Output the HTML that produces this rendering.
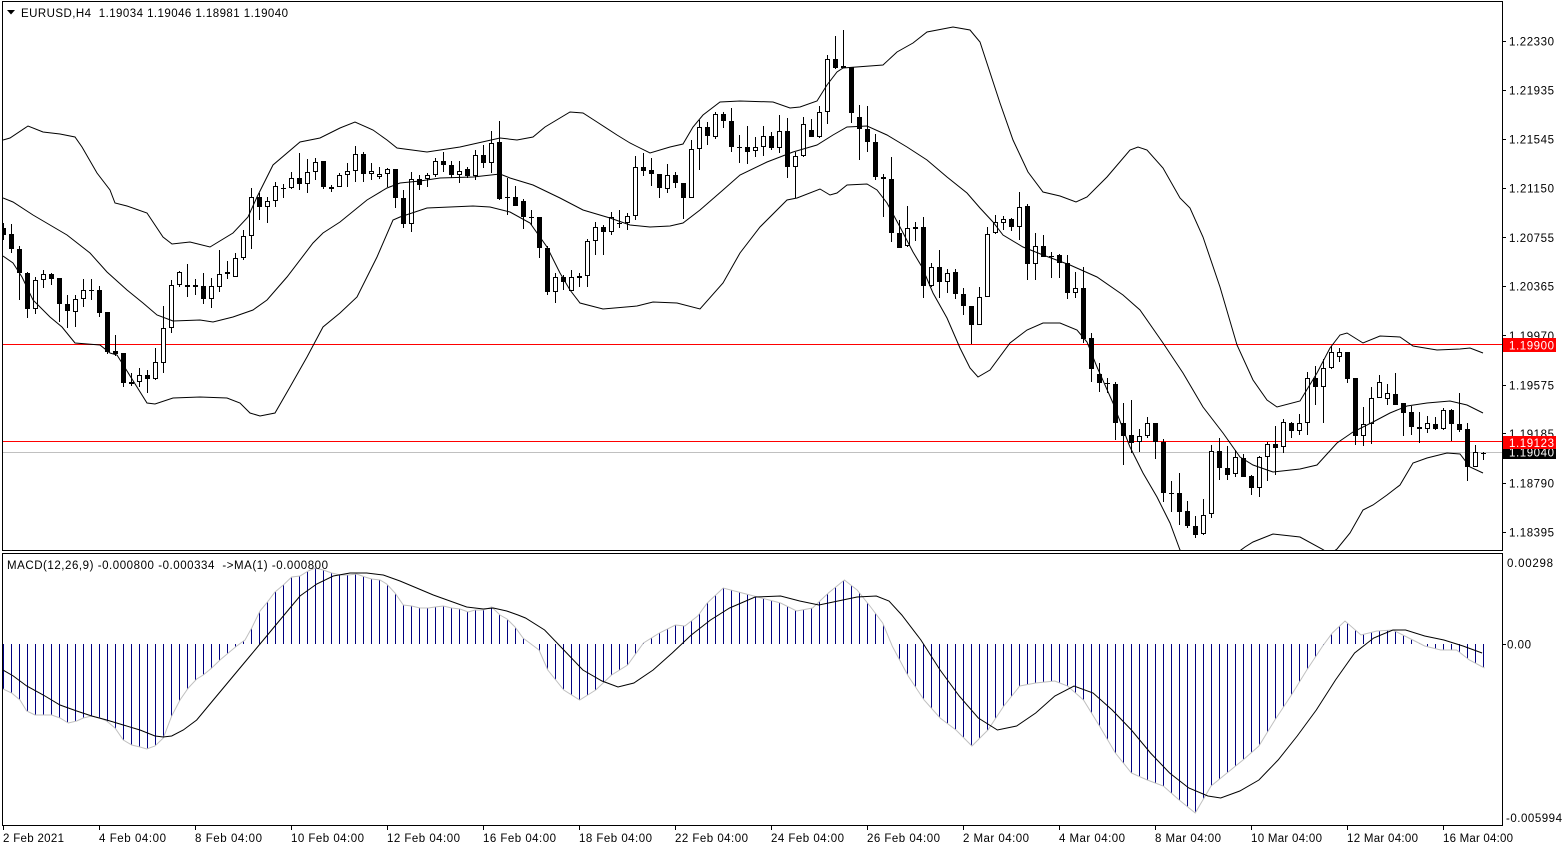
<!DOCTYPE html>
<html><head><meta charset="utf-8"><style>html,body{margin:0;padding:0;overflow:hidden;background:#fff}svg{display:block}text{white-space:pre}</style></head>
<body>
<svg width="1566" height="850" viewBox="0 0 1566 850" xmlns="http://www.w3.org/2000/svg" font-family="'Liberation Sans', sans-serif" font-size="11.5">
<defs>
<clipPath id="cm"><rect x="3" y="2" width="1499" height="548"/></clipPath>
<clipPath id="cd"><rect x="3" y="554" width="1499" height="271"/></clipPath>
<pattern id="hp" x="3" y="0" width="8" height="850" patternUnits="userSpaceOnUse"><rect x="0" y="0" width="1" height="850" fill="#000080"/></pattern>
</defs>
<rect width="1566" height="850" fill="#fff"/>

<g clip-path="url(#cm)">
<rect x="2" y="344" width="1500" height="1" fill="#ff0000"/>
<rect x="2" y="441" width="1500" height="1" fill="#ff0000"/>
<rect x="2" y="452" width="1500" height="1" fill="#c0c0c0"/>

<path shape-rendering="crispEdges" stroke="#000" stroke-width="1" fill="none" d="M3.5 223V240M11.5 224V253M19.5 246V300M27.5 272V318M35.5 277V314M43.5 270V288M51.5 273V285M59.5 278V322M67.5 295V328M75.5 295V327M83.5 279V307M91.5 279V300M99.5 286V317M107.5 312V354M115.5 335V356M123.5 353V387M131.5 373V386M139.5 368V387M147.5 370V393M155.5 348V380M163.5 306V373M171.5 280V333M179.5 271V287M187.5 264V297M195.5 279V295M203.5 273V304M211.5 278V308M219.5 250V292M227.5 261V279M235.5 253V277M243.5 230V260M251.5 188V249M259.5 193V220M267.5 197V223M275.5 182V207M283.5 184V198M291.5 172V189M299.5 153V190M307.5 159V193M315.5 158V180M323.5 161V189M331.5 185V192M339.5 173V187M347.5 163V187M355.5 146V182M363.5 152V182M371.5 163V180M379.5 167V179M387.5 168V187M395.5 169V208M403.5 190V228M411.5 172V232M419.5 175V190M427.5 173V187M435.5 158V177M443.5 152V172M451.5 161V178M459.5 161V183M467.5 167V178M475.5 150V180M483.5 145V168M491.5 131V173M499.5 121V200M507.5 178V215M515.5 186V206M523.5 199V229M531.5 210V225M539.5 217V258M547.5 246V295M555.5 273V303M563.5 275V290M571.5 270V291M579.5 273V287M587.5 239V287M595.5 222V255M603.5 225V255M611.5 212V235M619.5 210V228M627.5 213V230M635.5 156V220M643.5 153V176M651.5 158V186M659.5 174V198M667.5 164V193M675.5 172V188M683.5 183V219M691.5 140V198M699.5 120V170M707.5 122V145M715.5 112V139M723.5 112V128M731.5 108V152M739.5 135V163M747.5 126V164M755.5 137V157M763.5 126V156M771.5 132V150M779.5 115V153M787.5 118V178M795.5 152V198M803.5 117V157M811.5 119V137M819.5 106V138M827.5 55V124M835.5 36V69M843.5 30V68M851.5 67V123M859.5 105V160M867.5 106V152M875.5 134V180M883.5 174V217M891.5 157V242M899.5 220V248M907.5 206V247M915.5 222V241M923.5 217V298M931.5 263V287M939.5 250V298M947.5 269V293M955.5 269V299M963.5 288V315M971.5 306V344M979.5 287V325M987.5 227V297M995.5 215V234M1003.5 216V230M1011.5 218V231M1019.5 192V240M1027.5 204V280M1035.5 233V280M1043.5 235V257M1051.5 252V278M1059.5 254V278M1067.5 255V299M1075.5 272V298M1083.5 267V343M1091.5 333V382M1099.5 363V392M1107.5 378V393M1115.5 382V440M1123.5 403V465M1131.5 400V453M1139.5 429V452M1147.5 417V438M1155.5 423V459M1163.5 439V502M1171.5 481V512M1179.5 473V525M1187.5 501V528M1195.5 516V538M1203.5 499V535M1211.5 445V518M1219.5 438V480M1227.5 446V480M1235.5 450V477M1243.5 454V477M1251.5 475V495M1259.5 456V497M1267.5 442V481M1275.5 426V475M1283.5 419V453M1291.5 422V438M1299.5 414V435M1307.5 372V435M1315.5 366V405M1323.5 359V423M1331.5 346V369M1339.5 348V362M1347.5 352V383M1355.5 378V445M1363.5 407V446M1371.5 387V444M1379.5 375V398M1387.5 384V405M1395.5 373V405M1403.5 403V436M1411.5 406V435M1419.5 412V443M1427.5 416V433M1435.5 417V430M1443.5 408V430M1451.5 409V441M1459.5 393V432M1467.5 423V481M1475.5 445V467M1483.5 452V460"/>

<path shape-rendering="crispEdges" fill="#000" d="M1 228h5v7h-5zM9 234h5v15h-5zM17 249h5v24h-5zM25 273h5v36h-5zM49 274h5v5h-5zM57 278h5v26h-5zM65 304h5v7h-5zM97 290h5v23h-5zM105 312h5v40h-5zM113 351h5v3h-5zM121 353h5v30h-5zM129 382h5v2h-5zM145 375h5v4h-5zM193 285h5v2h-5zM201 286h5v13h-5zM257 197h5v10h-5zM297 178h5v6h-5zM321 161h5v26h-5zM329 187h5v2h-5zM361 154h5v20h-5zM393 169h5v29h-5zM401 198h5v26h-5zM417 179h5v6h-5zM441 161h5v4h-5zM449 165h5v10h-5zM465 169h5v7h-5zM481 155h5v8h-5zM497 142h5v57h-5zM513 197h5v9h-5zM521 201h5v16h-5zM537 217h5v31h-5zM545 248h5v44h-5zM561 277h5v5h-5zM601 227h5v5h-5zM641 167h5v4h-5zM649 170h5v4h-5zM657 174h5v14h-5zM673 175h5v8h-5zM681 183h5v15h-5zM705 127h5v9h-5zM721 114h5v7h-5zM729 121h5v26h-5zM745 147h5v5h-5zM769 136h5v12h-5zM785 131h5v36h-5zM809 130h5v7h-5zM833 59h5v9h-5zM841 66h5v2h-5zM849 67h5v46h-5zM857 117h5v12h-5zM865 129h5v13h-5zM873 142h5v35h-5zM881 177h5v2h-5zM889 179h5v54h-5zM897 233h5v15h-5zM913 227h5v2h-5zM921 227h5v59h-5zM937 267h5v15h-5zM953 272h5v22h-5zM961 294h5v12h-5zM969 306h5v19h-5zM1009 219h5v8h-5zM1025 206h5v58h-5zM1041 246h5v11h-5zM1057 255h5v8h-5zM1065 263h5v30h-5zM1081 288h5v51h-5zM1089 338h5v31h-5zM1097 374h5v9h-5zM1113 384h5v39h-5zM1121 423h5v13h-5zM1129 435h5v8h-5zM1153 423h5v19h-5zM1161 442h5v51h-5zM1177 493h5v19h-5zM1185 511h5v15h-5zM1193 526h5v9h-5zM1217 451h5v17h-5zM1225 468h5v7h-5zM1241 458h5v19h-5zM1249 476h5v12h-5zM1273 444h5v4h-5zM1289 423h5v8h-5zM1313 378h5v9h-5zM1345 352h5v27h-5zM1353 378h5v58h-5zM1393 394h5v11h-5zM1401 403h5v10h-5zM1409 412h5v15h-5zM1417 427h5v2h-5zM1433 424h5v5h-5zM1449 410h5v14h-5zM1457 424h5v6h-5zM1465 429h5v38h-5zM89 290h5v1h-5zM281 188h5v1h-5zM505 197h5v1h-5zM529 217h5v1h-5zM617 223h5v1h-5zM737 147h5v1h-5zM1049 256h5v1h-5zM1105 383h5v1h-5zM1169 493h5v1h-5zM1481 453h5v1h-5z"/>

<path shape-rendering="crispEdges" fill="#fff" stroke="#000" stroke-width="1" d="M33.5 280.5h4v28h-4zM41.5 274.5h4v5h-4zM73.5 299.5h4v12h-4zM81.5 290.5h4v8h-4zM137.5 375.5h4v6h-4zM153.5 362.5h4v16h-4zM161.5 328.5h4v34h-4zM169.5 285.5h4v42h-4zM177.5 272.5h4v12h-4zM185.5 285.5h4v1h-4zM209.5 286.5h4v12h-4zM217.5 274.5h4v12h-4zM225.5 272.5h4v1h-4zM233.5 258.5h4v18h-4zM241.5 236.5h4v21h-4zM249.5 197.5h4v38h-4zM265.5 201.5h4v5h-4zM273.5 186.5h4v14h-4zM289.5 178.5h4v9h-4zM305.5 172.5h4v11h-4zM313.5 162.5h4v9h-4zM337.5 175.5h4v11h-4zM345.5 171.5h4v3h-4zM353.5 154.5h4v16h-4zM369.5 171.5h4v2h-4zM377.5 174.5h4v2h-4zM385.5 169.5h4v4h-4zM409.5 179.5h4v44h-4zM425.5 175.5h4v3h-4zM433.5 161.5h4v13h-4zM457.5 171.5h4v3h-4zM473.5 155.5h4v20h-4zM489.5 143.5h4v19h-4zM553.5 277.5h4v14h-4zM569.5 277.5h4v13h-4zM577.5 276.5h4v1h-4zM585.5 241.5h4v34h-4zM593.5 227.5h4v13h-4zM609.5 217.5h4v14h-4zM625.5 216.5h4v6h-4zM633.5 167.5h4v48h-4zM665.5 175.5h4v13h-4zM689.5 149.5h4v48h-4zM697.5 127.5h4v21h-4zM713.5 114.5h4v22h-4zM753.5 147.5h4v3h-4zM761.5 136.5h4v10h-4zM777.5 131.5h4v16h-4zM793.5 156.5h4v10h-4zM801.5 124.5h4v31h-4zM817.5 112.5h4v24h-4zM825.5 59.5h4v52h-4zM905.5 228.5h4v17h-4zM929.5 267.5h4v18h-4zM945.5 273.5h4v8h-4zM977.5 297.5h4v27h-4zM985.5 234.5h4v62h-4zM993.5 222.5h4v10h-4zM1001.5 219.5h4v3h-4zM1017.5 207.5h4v19h-4zM1033.5 246.5h4v17h-4zM1073.5 288.5h4v4h-4zM1137.5 436.5h4v5h-4zM1145.5 423.5h4v12h-4zM1201.5 515.5h4v18h-4zM1209.5 451.5h4v62h-4zM1233.5 457.5h4v16h-4zM1257.5 457.5h4v30h-4zM1265.5 444.5h4v12h-4zM1281.5 422.5h4v24h-4zM1297.5 423.5h4v7h-4zM1305.5 378.5h4v44h-4zM1321.5 368.5h4v18h-4zM1329.5 352.5h4v15h-4zM1337.5 352.5h4v4h-4zM1361.5 424.5h4v11h-4zM1369.5 398.5h4v25h-4zM1377.5 382.5h4v15h-4zM1385.5 393.5h4v5h-4zM1425.5 423.5h4v5h-4zM1441.5 410.5h4v18h-4zM1473.5 452.5h4v14h-4z"/>

<g fill="none" stroke="#000" stroke-width="1">
<polyline points="3,140 10,138 28,126 43,132 60,134 75,137 82,147 97,173 110,190 115,203 127,206 147,213 163,237 172,244 190,242 210,247 233,233 248,217 257,197 273,165 300,142 320,138 340,128 355,122 373,130 387,140 397,148 427,152 460,147 500,138 517,140 533,137 545,127 570,112 583,113 597,122 617,135 630,143 650,153 670,147 683,144 693,127 703,115 720,102 740,101 773,102 790,108 800,107 817,101 827,85 837,72 843,68 883,65 897,52 913,43 927,32 953,27 970,30 980,42 1000,103 1013,140 1028,172 1043,192 1060,196 1076,202 1087,197 1107,177 1130,150 1138,147 1147,150 1163,168 1180,198 1190,208 1203,237 1220,287 1237,345 1253,380 1267,400 1277,407 1300,401 1317,373 1330,348 1340,335 1347,333 1363,343 1380,336 1400,337 1413,346 1437,350 1460,349 1470,348 1483,353"/>
<polyline points="3,198 13,202 33,215 67,235 90,253 107,272 127,290 143,303 157,315 173,321 200,320 213,322 233,317 253,310 267,300 287,277 313,243 323,233 340,222 367,200 387,188 400,183 420,181 440,178 473,177 500,174 510,178 533,185 560,198 583,210 610,218 630,225 650,227 670,226 683,223 700,210 723,190 740,175 767,162 793,152 817,145 833,135 847,127 867,126 887,135 907,147 927,160 947,177 967,193 980,208 993,222 1003,235 1023,247 1043,255 1070,265 1097,277 1123,295 1140,310 1163,343 1183,373 1203,407 1223,433 1240,457 1253,465 1273,472 1300,469 1317,465 1337,443 1353,432 1373,422 1390,413 1407,406 1427,403 1450,401 1467,405 1483,413"/>
<polyline points="3,256 13,263 22,277 33,300 50,317 62,327 75,343 100,345 110,353 117,355 147,403 155,404 173,398 200,397 227,398 240,403 250,413 260,416 275,413 290,387 307,357 323,327 340,313 357,297 377,257 393,220 400,217 427,208 473,206 490,207 510,212 530,223 547,247 560,273 570,290 580,303 603,309 637,306 653,302 677,303 700,309 723,283 740,253 760,227 787,200 797,198 820,189 830,195 837,193 847,185 867,184 877,190 887,203 900,227 913,252 922,267 933,293 947,318 960,348 970,368 978,377 990,370 1010,343 1027,330 1043,323 1060,323 1077,330 1087,342 1097,367 1113,403 1130,447 1143,473 1157,497 1170,523 1180,550 1200,565 1230,558 1245,547 1253,542 1273,534 1300,537 1322,549 1330,554 1337,549 1350,533 1363,510 1373,505 1387,495 1400,485 1413,463 1427,458 1447,453 1460,454 1470,467 1483,473"/>
</g>
</g>

<g clip-path="url(#cd)">
<polygon fill="url(#hp)" points="3,689 11.7,693 20,700 26.7,711 35,715 51.7,715 60,718 68.3,723 76.7,721 83.3,718 91.7,716 100,718 106.7,721 115,728 123.3,740 131.7,745 140,747 146.7,749 155,746 163.3,738 171.7,716 180,700 188.3,688 196.7,679 203.3,675 211.7,668 220,660 228.3,653 236.7,646 245,640 251.7,628 260,611 266.7,603 275,592 283.3,585 291.7,577 300,576 308.3,571 315,568 323.3,570 331.7,573 340,575 348.3,575 356.7,574 365,577 371.7,579 380,580 386.7,584 395,593 403.3,605 411.7,606 420,608 428.3,608 435,607 443.3,606 451.7,608 460,609 468.3,612 475,610 483.3,610 491.7,607 500,615 507,619 515,627 523,638 531,644 539,650 547.8,670 563.8,690 579.7,700 595.7,690 611.6,675 627.6,665 643.5,643 659.4,633 675.4,625 684.9,626 697.7,616 707.3,603 723.2,588 742.3,593 761.5,598 780.6,603 796.6,611 812.5,608 828.4,593 844.4,580 857.1,590 869.9,606 882.7,623 892.2,646 908.2,676 924.1,700 940.1,718 956,730 971.9,746 987.9,730 1003.8,706 1019.8,686 1035.7,683 1054.8,681 1067.6,686 1083.5,700 1099.5,726 1115.4,753 1131.4,773 1147.3,780 1163.3,786 1179.2,800 1195.2,813 1211.1,786 1227,773 1243,760 1258.9,746 1274.9,720 1290.8,696 1306.8,670 1322.7,646 1332.3,633 1345,621 1361,635 1376.9,631 1392.9,630 1408.8,638 1424.7,646 1440.7,650 1456.6,650 1469.4,660 1484.5,668 1484.5,644 2,644"/>
<polyline fill="none" stroke="#c0c0c0" stroke-width="1" points="3,689 11.7,693 20,700 26.7,711 35,715 51.7,715 60,718 68.3,723 76.7,721 83.3,718 91.7,716 100,718 106.7,721 115,728 123.3,740 131.7,745 140,747 146.7,749 155,746 163.3,738 171.7,716 180,700 188.3,688 196.7,679 203.3,675 211.7,668 220,660 228.3,653 236.7,646 245,640 251.7,628 260,611 266.7,603 275,592 283.3,585 291.7,577 300,576 308.3,571 315,568 323.3,570 331.7,573 340,575 348.3,575 356.7,574 365,577 371.7,579 380,580 386.7,584 395,593 403.3,605 411.7,606 420,608 428.3,608 435,607 443.3,606 451.7,608 460,609 468.3,612 475,610 483.3,610 491.7,607 500,615 507,619 515,627 523,638 531,644 539,650 547.8,670 563.8,690 579.7,700 595.7,690 611.6,675 627.6,665 643.5,643 659.4,633 675.4,625 684.9,626 697.7,616 707.3,603 723.2,588 742.3,593 761.5,598 780.6,603 796.6,611 812.5,608 828.4,593 844.4,580 857.1,590 869.9,606 882.7,623 892.2,646 908.2,676 924.1,700 940.1,718 956,730 971.9,746 987.9,730 1003.8,706 1019.8,686 1035.7,683 1054.8,681 1067.6,686 1083.5,700 1099.5,726 1115.4,753 1131.4,773 1147.3,780 1163.3,786 1179.2,800 1195.2,813 1211.1,786 1227,773 1243,760 1258.9,746 1274.9,720 1290.8,696 1306.8,670 1322.7,646 1332.3,633 1345,621 1361,635 1376.9,631 1392.9,630 1408.8,638 1424.7,646 1440.7,650 1456.6,650 1469.4,660 1484.5,668"/>
<polyline fill="none" stroke="#000" stroke-width="1" points="3,670 13.3,676 26.7,686 43.3,695 60,705 76.7,711 91.7,716 106.7,720 123.3,725 140,730 155,736 163.3,737 171.7,736 183.3,730 196.7,720 213.3,700 233.3,676 250,656 266.7,636 283.3,616 300,596 316.7,584 333.3,576 350,573 366.7,573 383.3,575 400,581 416.7,588 433.3,595 450,601 466.7,607 483.3,609 493.3,608 506.7,611 518,615 525.5,618 544.6,630 563.8,650 582.9,670 602,681 618,687 633.9,683 653.1,670 672.2,653 691.3,635 710.5,620 729.6,608 755.1,597 780.6,596 799.7,601 818.9,605 838,601 857.1,597 876.3,596 889,601 901.8,615 920.9,640 940.1,670 959.2,696 978.3,718 997.4,730 1016.6,726 1035.7,713 1054.8,696 1074,686 1093.1,693 1112.2,710 1131.4,730 1150.5,753 1169.6,773 1188.8,788 1207.9,796 1220.7,798 1239.8,791 1258.9,780 1278.1,760 1297.2,736 1316.3,710 1335.5,680 1354.6,653 1373.7,638 1392.9,630 1405.6,630 1424.7,636 1443.9,640 1463,646 1482.1,653"/>
</g>

<path d="M2.5 1.5H1502.5V550.5H2.5Z" fill="none" stroke="#000" stroke-width="1" shape-rendering="crispEdges"/>
<path d="M2.5 553.5H1502.5V825.5H2.5Z" fill="none" stroke="#000" stroke-width="1" shape-rendering="crispEdges"/>

<path stroke="#000" stroke-width="1" shape-rendering="crispEdges" d="M1502 41.5h4M1502 90.5h4M1502 139.5h4M1502 188.5h4M1502 237.5h4M1502 286.5h4M1502 335.5h4M1502 385.5h4M1502 433.5h4M1502 483.5h4M1502 532.5h4M1502 644.5h4M3.5 826v4M99.5 826v4M195.5 826v4M291.5 826v4M387.5 826v4M483.5 826v4M579.5 826v4M675.5 826v4M771.5 826v4M867.5 826v4M963.5 826v4M1059.5 826v4M1155.5 826v4M1251.5 826v4M1347.5 826v4M1443.5 826v4"/>

<polygon points="7,10 15,10 11,14.5" fill="#000"/>
<text x="21" y="17" textLength="267" lengthAdjust="spacing">EURUSD,H4  1.19034 1.19046 1.18981 1.19040</text>
<text x="7" y="569" textLength="321" lengthAdjust="spacing">MACD(12,26,9) -0.000800 -0.000334  -&gt;MA(1) -0.000800</text>

<g>
<text x="1509" y="45.5" textLength="45" lengthAdjust="spacing">1.22330</text>
<text x="1509" y="94.5" textLength="45" lengthAdjust="spacing">1.21935</text>
<text x="1509" y="143.5" textLength="45" lengthAdjust="spacing">1.21545</text>
<text x="1509" y="192.5" textLength="45" lengthAdjust="spacing">1.21150</text>
<text x="1509" y="242" textLength="45" lengthAdjust="spacing">1.20755</text>
<text x="1509" y="290.5" textLength="45" lengthAdjust="spacing">1.20365</text>
<text x="1509" y="340" textLength="45" lengthAdjust="spacing">1.19970</text>
<text x="1509" y="389.5" textLength="45" lengthAdjust="spacing">1.19575</text>
<text x="1509" y="438" textLength="45" lengthAdjust="spacing">1.19185</text>
<text x="1509" y="487.5" textLength="45" lengthAdjust="spacing">1.18790</text>
<text x="1509" y="536.5" textLength="45" lengthAdjust="spacing">1.18395</text>
<text x="1507" y="567" textLength="46" lengthAdjust="spacing">0.00298</text>
<text x="1507" y="648.5" textLength="24" lengthAdjust="spacing">0.00</text>
<text x="1506" y="822" textLength="56" lengthAdjust="spacing">-0.005994</text>
</g>

<rect x="1503" y="445" width="53" height="14" fill="#000"/>
<text x="1509" y="456.5" fill="#fff" textLength="45" lengthAdjust="spacing">1.19040</text>
<rect x="1503" y="338" width="53" height="14" fill="#ff0000"/>
<text x="1509" y="349.5" fill="#fff" textLength="45" lengthAdjust="spacing">1.19900</text>
<rect x="1503" y="436" width="53" height="13" fill="#ff0000"/>
<text x="1509" y="447" fill="#fff" textLength="45" lengthAdjust="spacing">1.19123</text>

<g>
<text x="3" y="842" textLength="61" lengthAdjust="spacing">2 Feb 2021</text>
<text x="99" y="842" textLength="67" lengthAdjust="spacing">4 Feb 04:00</text>
<text x="195" y="842" textLength="67" lengthAdjust="spacing">8 Feb 04:00</text>
<text x="291" y="842" textLength="73" lengthAdjust="spacing">10 Feb 04:00</text>
<text x="387" y="842" textLength="73" lengthAdjust="spacing">12 Feb 04:00</text>
<text x="483" y="842" textLength="73" lengthAdjust="spacing">16 Feb 04:00</text>
<text x="579" y="842" textLength="73" lengthAdjust="spacing">18 Feb 04:00</text>
<text x="675" y="842" textLength="73" lengthAdjust="spacing">22 Feb 04:00</text>
<text x="771" y="842" textLength="73" lengthAdjust="spacing">24 Feb 04:00</text>
<text x="867" y="842" textLength="73" lengthAdjust="spacing">26 Feb 04:00</text>
<text x="963" y="842" textLength="66" lengthAdjust="spacing">2 Mar 04:00</text>
<text x="1059" y="842" textLength="66" lengthAdjust="spacing">4 Mar 04:00</text>
<text x="1155" y="842" textLength="66" lengthAdjust="spacing">8 Mar 04:00</text>
<text x="1251" y="842" textLength="71" lengthAdjust="spacing">10 Mar 04:00</text>
<text x="1347" y="842" textLength="71" lengthAdjust="spacing">12 Mar 04:00</text>
<text x="1443" y="842" textLength="70" lengthAdjust="spacing">16 Mar 04:00</text>
</g>
</svg>
</body></html>
